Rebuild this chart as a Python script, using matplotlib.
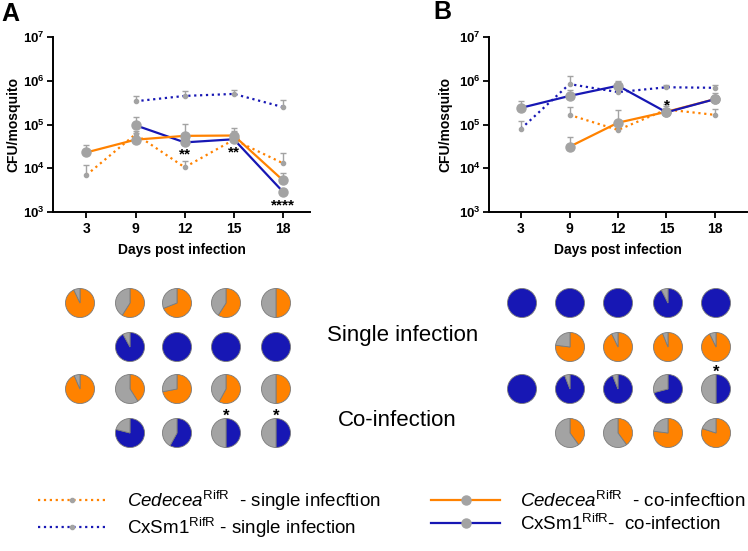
import numpy as np
import matplotlib
matplotlib.use("Agg")
import matplotlib.pyplot as plt
from matplotlib.ticker import FixedLocator, FuncFormatter, NullLocator

plt.rcParams['font.family'] = ['Liberation Sans', 'DejaVu Sans']
plt.rcParams['mathtext.fontset'] = 'custom'
plt.rcParams['mathtext.rm'] = 'Liberation Sans'
plt.rcParams['mathtext.it'] = 'Liberation Sans:italic'
plt.rcParams['mathtext.bf'] = 'Liberation Sans:bold'

nan = np.nan
days = ["3", "9", "12", "15", "18"]

# panel A: mean CFU and top of error bar
a_ced_single = [7.0e3, 6.0e4, 1.05e4, 4.5e4, 1.3e4]
a_ced_single_top = [1.2e4, 7.0e4, 1.5e4, 7.0e4, 2.2e4]
a_cx_single = [nan, 3.4e5, 4.5e5, 5.0e5, 2.5e5]
a_cx_single_top = [nan, 4.6e5, 5.8e5, 6.0e5, 3.6e5]
a_ced_co = [2.3e4, 4.5e4, 5.5e4, 5.6e4, 5.3e3]
a_ced_co_top = [3.4e4, 6.5e4, 1.04e5, 8.5e4, 7.6e3]
a_cx_co = [nan, 9.6e4, 3.9e4, 4.6e4, 2.9e3]
a_cx_co_top = [nan, 1.45e5, 4.5e4, 6.5e4, 3.3e3]

# panel B
b_ced_single = [nan, 1.66e5, 7.5e4, 2.2e5, 1.66e5]
b_ced_single_top = [nan, 2.5e5, 8.5e4, 2.6e5, 2.3e5]
b_cx_single = [8.0e4, 8.4e5, 5.5e5, 7.1e5, 6.9e5]
b_cx_single_top = [1.2e5, 1.3e6, 6.2e5, 8.0e5, 8.0e5]
b_ced_co = [nan, 3.1e4, 1.1e5, 1.95e5, 3.8e5]
b_ced_co_top = [nan, 5.2e4, 2.1e5, 3.0e5, 5.2e5]
b_cx_co = [2.4e5, 4.5e5, 7.7e5, 1.9e5, 3.8e5]
b_cx_co_top = [3.4e5, 6.2e5, 1.0e6, 2.2e5, 4.5e5]

# significance marks: (day index, text, y value)
a_stars = [(2, "**", 2.8e4), (3, "**", 3.1e4), (4, "****", 1.9e3)]
b_stars = [(3, "*", 3.7e5)]

# pie charts: share of coloured (positive) mosquitoes per day, None = no pie
pie_a_ced_single = [0.93, 0.59, 0.69, 0.59, 0.50]
pie_a_cx_single = [None, 0.92, 1.0, 1.0, 1.0]
pie_a_ced_co = [0.935, 0.41, 0.72, 0.58, 0.50]
pie_a_cx_co = [None, 0.79, 0.58, 0.50, 0.50]
pie_b_cx_single = [1.0, 1.0, 1.0, 0.925, 1.0]
pie_b_ced_single = [None, 0.77, 0.93, 0.94, 0.93]
pie_b_cx_co = [1.0, 0.94, 0.94, 0.71, 0.50]
pie_b_ced_co = [None, 0.40, 0.40, 0.77, 0.80]
pie_a_stars = [(3, 3), (3, 4)]   # (row, col)
pie_b_stars = [(2, 4)]

ORANGE = '#FF8200'
BLUE = '#1717B4'
GREY = '#A3A3A3'

W, H = 748, 551
fig = plt.figure(figsize=(W / 100, H / 100), dpi=100)


def series(ax, x, mean, top, color, single):
    mean = np.array(mean, float)
    top = np.array(top, float)
    ok = ~np.isnan(mean)
    ax.vlines(x[ok], mean[ok], top[ok], color=GREY, lw=1.0, zorder=2)
    ax.plot(x[ok], top[ok], ls='none', marker='_', ms=5, mew=1.0, color=GREY, zorder=2)
    if single:
        line, = ax.plot(x[ok], mean[ok], ls=':', lw=1.6, color=color, marker='o', ms=3,
                        mfc=GREY, mec=GREY, zorder=3)
    else:
        line, = ax.plot(x[ok], mean[ok], ls='-', lw=1.6, color=color, marker='o', ms=6.5,
                        mfc=GREY, mec=GREY, zorder=4)
    return line


def setup(ax, label_x):
    ax.set_yscale('log')
    ax.set_ylim(1e3, 1e7)
    ax.yaxis.set_major_locator(FixedLocator([1e3, 1e4, 1e5, 1e6, 1e7]))
    ax.yaxis.set_minor_locator(NullLocator())
    ax.yaxis.set_major_formatter(FuncFormatter(lambda v, p: r"$\mathbf{10^{%d}}$" % round(np.log10(v))))
    ax.set_xticks(range(len(days)))
    ax.set_xticklabels(days, fontweight='bold')
    ax.tick_params(labelsize=10, width=1.3, length=4)
    ax.tick_params(axis='y', pad=2, labelsize=9.5)
    for s in ['top', 'right']:
        ax.spines[s].set_visible(False)
    for s in ['left', 'bottom']:
        ax.spines[s].set_linewidth(1.4)
    ax.set_ylabel("CFU/mosquito", fontweight='bold', fontsize=10)
    ax.yaxis.set_label_coords(label_x, 0.5)
    ax.set_xlabel("Days post infection", fontweight='bold', fontsize=10, labelpad=5)


x = np.arange(len(days))
axA = fig.add_axes([53 / W, 1 - 212 / H, 257 / W, 175 / H])
axB = fig.add_axes([489 / W, 1 - 212 / H, 258 / W, 175 / H])

h_ced_s = series(axA, x, a_ced_single, a_ced_single_top, ORANGE, True)
h_cx_s = series(axA, x, a_cx_single, a_cx_single_top, BLUE, True)
h_cx_c = series(axA, x, a_cx_co, a_cx_co_top, BLUE, False)
h_ced_c = series(axA, x, a_ced_co, a_ced_co_top, ORANGE, False)
axA.set_xlim(-0.68, 4.55)

series(axB, x, b_ced_single, b_ced_single_top, ORANGE, True)
series(axB, x, b_cx_single, b_cx_single_top, BLUE, True)
series(axB, x, b_ced_co, b_ced_co_top, ORANGE, False)
series(axB, x, b_cx_co, b_cx_co_top, BLUE, False)
axB.set_xlim(-0.66, 4.66)

for ax, stars, lx in [(axA, a_stars, (20 - 53) / 257), (axB, b_stars, (452 - 489) / 258)]:
    setup(ax, lx)
    for i, s, yv in stars:
        ax.annotate(s, (i, yv), xytext=(0, -4), textcoords='offset points',
                    ha='center', va='center', fontsize=11, fontweight='bold', zorder=6)

fig.text(10 / W, 1 - 14 / H, "A", fontsize=18, fontweight='bold', ha='center', va='center')
fig.text(442 / W, 1 - 12 / H, "B", fontsize=18, fontweight='bold', ha='center', va='center')

# pies on an overlay axes in pixel units
ov = fig.add_axes([0, 0, 1, 1], zorder=-1)
rows_y = [303, 347, 389, 433]
cols_a = [80, 130, 177, 226, 276]
cols_b = [522, 570, 618, 668, 716]
R = 14.5
grid_a = [(pie_a_ced_single, ORANGE), (pie_a_cx_single, BLUE),
          (pie_a_ced_co, ORANGE), (pie_a_cx_co, BLUE)]
grid_b = [(pie_b_cx_single, BLUE), (pie_b_ced_single, ORANGE),
          (pie_b_cx_co, BLUE), (pie_b_ced_co, ORANGE)]
for grid, cols, stars in [(grid_a, cols_a, pie_a_stars), (grid_b, cols_b, pie_b_stars)]:
    for r, (shares, col) in enumerate(grid):
        for c, f in enumerate(shares):
            if f is None:
                continue
            vals = [f, 1 - f]
            cols_ = [col, GREY]
            keep = [k for k in range(2) if vals[k] > 1e-6]
            ov.pie([vals[k] for k in keep], colors=[cols_[k] for k in keep],
                   startangle=90, counterclock=False, radius=R,
                   center=(cols[c], H - rows_y[r]),
                   wedgeprops=dict(edgecolor='#7a7a7a', linewidth=0.6))
    for r, c in stars:
        ov.text(cols[c], H - rows_y[r] + R + 2, "*", ha='center', va='center',
                fontsize=12, fontweight='bold')
ov.set_xlim(0, W)
ov.set_ylim(0, H)
ov.set_aspect('auto')
ov.axis('off')

fig.text(403 / W, 1 - 335 / H, "Single infection", fontsize=16, ha='center', va='center')
fig.text(397 / W, 1 - 420 / H, "Co-infection", fontsize=16, ha='center', va='center')

labels = [r"$\mathit{Cedecea}^{\mathrm{RifR}}$  - single infecftion",
          r"CxSm1$^{\mathrm{RifR}}$ - single infection",
          r"$\mathit{Cedecea}^{\mathrm{RifR}}$  - co-infecftion",
          r"CxSm1$^{\mathrm{RifR}}$-  co-infection"]
fig.legend([h_ced_s, h_cx_s, h_ced_c, h_cx_c], labels, ncol=2, frameon=False,
           loc='center left', bbox_to_anchor=(30 / W, 1 - 514 / H), borderaxespad=0,
           fontsize=13.5, handlelength=3.7, handletextpad=1.05, columnspacing=2.7,
           labelspacing=0.15, numpoints=1)

fig.savefig("out.png", dpi=100)
